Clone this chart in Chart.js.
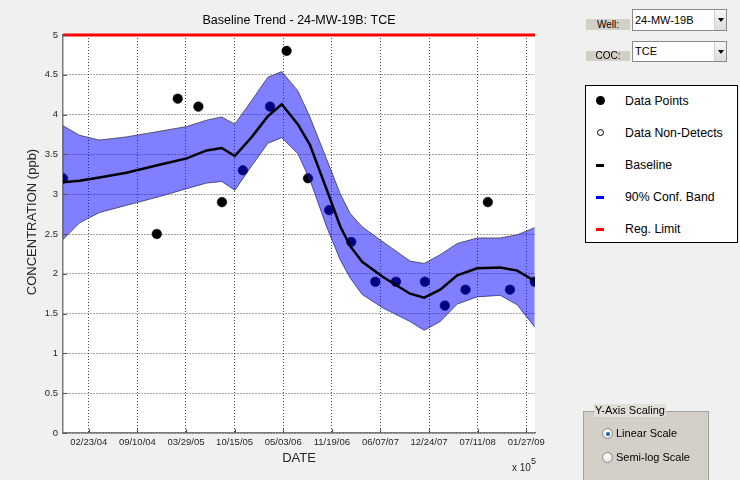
<!DOCTYPE html>
<html>
<head>
<meta charset="utf-8">
<title>Baseline Trend - 24-MW-19B: TCE</title>
<script src="https://cdn.jsdelivr.net/npm/chart.js@4.4.0/dist/chart.umd.min.js"></script>
<style>
  html, body { margin: 0; padding: 0; background: #f0f0f0; }
  #wrap { position: relative; width: 740px; height: 480px; overflow: hidden;
          font-family: Arial, "Liberation Sans", sans-serif; color: #000; }
  #chart { position: absolute; left: 0; top: 0; }
  .tag { position: absolute; background: #d4d0c8; font-size: 10px; text-align: center; }
  .dd { position: absolute; box-sizing: border-box; background: #fff; border: 1px solid #8a8a8a;
        font-size: 11px; padding-left: 2px; }
  .dd .btn { position: absolute; right: 0; top: 0; bottom: 0; width: 11px;
             background: linear-gradient(#f6f6f6, #dcdcdc); border-left: 1px solid #d0d0d0; }
  .dd .btn::after { content: ""; position: absolute; left: 3px; top: 50%; margin-top: -2px;
                    border-left: 3px solid transparent; border-right: 3px solid transparent;
                    border-top: 4px solid #000; }
  #legend { position: absolute; left: 585px; top: 85px; width: 153px; height: 158px;
            box-sizing: border-box; border: 1px solid #000; background: #fff; }
  .row { position: absolute; left: 0; height: 16px; font-size: 12.3px; line-height: 16px; }
  .row span.txt { position: absolute; left: 39px; white-space: nowrap; }
  .mk { position: absolute; }
  #scaling { position: absolute; left: 583px; top: 411px; width: 126px; height: 90px;
             box-sizing: border-box; background: #d4d0c8; border: 1px solid #a0a0a0; }
  #scaling .cap { position: absolute; left: 10px; top: -8px; font-size: 11px; line-height: 13px;
                  padding: 0 1px; background: #e2dfd9; white-space: nowrap; }
  .radio { position: absolute; font-size: 11px; line-height: 13px; white-space: nowrap; }
  .radio i { position: absolute; left: 0; top: 0; width: 11px; height: 11px; box-sizing: border-box;
             border-radius: 50%; border: 1px solid #8c8c8c;
             background: radial-gradient(circle at 40% 35%, #ffffff, #dcdcdc); }
  .radio i.on::after { content: ""; position: absolute; left: 2.5px; top: 2.5px; width: 4px; height: 4px;
                       border-radius: 50%; background: #1c62b0; }
  .radio span { position: absolute; left: 14px; top: -1px; }
  #mult { position: absolute; left: 512px; top: 459px; font-size: 10px; color: #262626; white-space: nowrap; }
  #mult sup { font-size: 9px; position: relative; top: -3px; }
</style>
</head>
<body>
<div id="wrap">
  <canvas id="chart" width="740" height="480"></canvas>

  <div class="tag" style="left:586px;top:19px;width:44px;height:11px;line-height:11px;">Well:</div>
  <div class="dd" style="left:632px;top:9px;width:95px;height:22px;line-height:20px;">24-MW-19B<div class="btn"></div></div>

  <div class="tag" style="left:586px;top:51px;width:44px;height:10px;line-height:10px;">COC:</div>
  <div class="dd" style="left:632px;top:41px;width:95px;height:21px;line-height:19px;">TCE<div class="btn"></div></div>

  <div id="legend">
    <div class="row" style="top:7px;width:150px;">
      <div class="mk" style="left:10px;top:3px;width:9px;height:9px;border-radius:50%;background:#000;"></div>
      <span class="txt">Data Points</span></div>
    <div class="row" style="top:39px;width:150px;">
      <div class="mk" style="left:11px;top:4px;width:7px;height:7px;box-sizing:border-box;border-radius:50%;border:1px solid #000;"></div>
      <span class="txt">Data Non-Detects</span></div>
    <div class="row" style="top:71px;width:150px;">
      <div class="mk" style="left:10px;top:7px;width:8px;height:3px;background:#000;"></div>
      <span class="txt">Baseline</span></div>
    <div class="row" style="top:103px;width:150px;">
      <div class="mk" style="left:10px;top:7px;width:8px;height:3px;background:#0000ff;"></div>
      <span class="txt">90% Conf. Band</span></div>
    <div class="row" style="top:135px;width:150px;">
      <div class="mk" style="left:10px;top:7px;width:8px;height:3px;background:#ff0000;"></div>
      <span class="txt">Reg. Limit</span></div>
  </div>

  <div id="scaling">
    <div class="cap">Y-Axis Scaling</div>
    <div class="radio" style="left:18px;top:16px;"><i class="on"></i><span>Linear Scale</span></div>
    <div class="radio" style="left:18px;top:40px;"><i></i><span>Semi-log Scale</span></div>
  </div>

  <div id="mult">x 10<sup>5</sup></div>
</div>

<script>
// Sample dates are stored as days after 02/23/04.
const tickDays = [0, 200, 400, 600, 800, 1000, 1200, 1400, 1600, 1800];
const tickLabels = ['02/23/04', '09/10/04', '03/29/05', '10/15/05', '05/03/06',
                    '11/19/06', '06/07/07', '12/24/07', '07/11/08', '01/27/09'];
const dateRange = [-106, 1836];

// Measured TCE concentrations (ppb)
const sampleDays = [-106, 280, 366, 451, 548, 634, 746, 814, 902, 989,
                    1080, 1179, 1264, 1383, 1465, 1550, 1642, 1733, 1835];
const concentration = [3.2, 2.5, 4.2, 4.1, 2.9, 3.3, 4.1, 4.8, 3.2, 2.8,
                       2.4, 1.9, 1.9, 1.9, 1.6, 1.8, 2.9, 1.8, 1.9];

// Baseline trend and its 90% confidence band
const trendDays = [-106, -38, 44, 155, 291, 403, 485, 547, 601, 671, 737, 794, 860, 910,
                   980, 1034, 1075, 1125, 1211, 1322, 1380, 1446, 1516, 1598, 1693, 1763, 1835];
const baseline  = [3.15, 3.17, 3.21, 3.27, 3.37, 3.45, 3.55, 3.58, 3.48, 3.72, 3.98, 4.13, 3.88, 3.62,
                   3.05, 2.60, 2.35, 2.15, 1.96, 1.75, 1.70, 1.80, 1.98, 2.07, 2.08, 2.04, 1.91];
const bandUpper = [3.86, 3.74, 3.68, 3.72, 3.79, 3.85, 3.93, 3.97, 3.88, 4.18, 4.47, 4.54, 4.30, 3.97,
                   3.43, 3.01, 2.76, 2.59, 2.40, 2.16, 2.13, 2.24, 2.38, 2.45, 2.45, 2.49, 2.58];
const bandLower = [2.43, 2.64, 2.77, 2.86, 2.97, 3.07, 3.14, 3.16, 3.05, 3.36, 3.64, 3.71, 3.51, 3.18,
                   2.58, 2.18, 1.95, 1.74, 1.57, 1.40, 1.29, 1.40, 1.62, 1.71, 1.73, 1.61, 1.33];

const regLimit = 5;

const pts = (xs, ys) => xs.map((x, i) => ({ x: x, y: ys[i] }));
const FONT = 'Arial, "Liberation Sans", sans-serif';

// white plotting surface behind the axes
const plotSurface = {
  id: 'plotSurface',
  beforeDraw(chart) {
    const { ctx, chartArea: a } = chart;
    ctx.save();
    ctx.fillStyle = '#ffffff';
    ctx.fillRect(a.left, a.top, a.right - a.left, a.bottom - a.top);
    ctx.restore();
  }
};

// short inward tick marks along the left and bottom axes, plus the rotated y label
const axisDecor = {
  id: 'axisDecor',
  afterDraw(chart) {
    const { ctx, chartArea: a, scales } = chart;
    ctx.save();
    ctx.strokeStyle = '#555';
    ctx.lineWidth = 1;
    ctx.beginPath();
    scales.y.ticks.forEach(t => {
      const py = Math.round(scales.y.getPixelForValue(t.value)) + 0.5;
      ctx.moveTo(a.left, py); ctx.lineTo(a.left + 4, py);
    });
    scales.x.ticks.forEach(t => {
      const px = Math.round(scales.x.getPixelForValue(t.value)) + 0.5;
      ctx.moveTo(px, a.bottom); ctx.lineTo(px, a.bottom - 4);
    });
    ctx.stroke();

    ctx.translate(32, 222);
    ctx.rotate(-Math.PI / 2);
    ctx.fillStyle = '#262626';
    ctx.font = '13px ' + FONT;
    ctx.textAlign = 'center';
    ctx.textBaseline = 'middle';
    ctx.fillText('CONCENTRATION (ppb)', 0, 0);
    ctx.restore();
  }
};

new Chart(document.getElementById('chart'), {
  type: 'line',
  data: {
    datasets: [
      { // drawn last (on top)
        label: 'Baseline',
        data: pts(trendDays, baseline),
        borderColor: '#000000', borderWidth: 2.5,
        pointRadius: 0, fill: false, tension: 0
      },
      {
        label: 'Reg. Limit',
        data: pts(dateRange, [regLimit, regLimit]),
        borderColor: '#ff0000', borderWidth: 3,
        pointRadius: 0, fill: false, clip: 4
      },
      {
        label: '90% Conf. Band',
        data: pts(trendDays, bandUpper),
        borderColor: 'rgba(50,50,60,0.75)', borderWidth: 1,
        backgroundColor: 'rgba(0,0,255,0.5)',
        pointRadius: 0, fill: '+1', tension: 0
      },
      {
        label: 'band lower',
        data: pts(trendDays, bandLower),
        borderColor: 'rgba(50,50,60,0.75)', borderWidth: 1,
        pointRadius: 0, fill: false, tension: 0
      },
      { // drawn first, so the band tints the points it covers
        label: 'Data Points',
        data: pts(sampleDays, concentration),
        showLine: false,
        pointRadius: 4.8, pointBackgroundColor: '#000000',
        pointBorderColor: '#000000', pointBorderWidth: 0.5
      }
    ]
  },
  options: {
    responsive: false,
    animation: false,
    events: [],
    layout: { padding: { left: 0, right: 205, top: 0, bottom: 0 } },
    plugins: {
      legend: { display: false },
      tooltip: { enabled: false },
      title: {
        display: true,
        fullSize: false,
        text: 'Baseline Trend - 24-MW-19B: TCE',
        color: '#000000',
        font: { family: FONT, size: 12.5, weight: 'normal' },
        padding: { top: 13, bottom: 7 }
      }
    },
    scales: {
      x: {
        type: 'linear',
        min: dateRange[0], max: dateRange[1],
        afterBuildTicks: s => { s.ticks = tickDays.map(v => ({ value: v })); },
        afterFit: s => { s.height = 47; },
        ticks: {
          autoSkip: false, maxRotation: 0, minRotation: 0, padding: 4,
          color: '#262626', font: { family: FONT, size: 9.5 },
          callback: v => tickLabels[tickDays.indexOf(v)]
        },
        grid: { color: 'rgba(0,0,0,0.7)', lineWidth: 1, drawTicks: false },
        border: { display: true, color: '#7a7a7a', width: 1.5, dash: [1, 2] },
        title: {
          display: true, text: 'DATE', color: '#262626',
          font: { family: FONT, size: 13 },
          padding: { top: 0, bottom: 14 }
        }
      },
      y: {
        type: 'linear',
        min: 0, max: 5,
        afterFit: s => { s.width = 63; },
        ticks: {
          stepSize: 0.5, padding: 5,
          color: '#262626', font: { family: FONT, size: 9.5 },
          callback: v => String(Math.round(v * 10) / 10)
        },
        grid: { color: 'rgba(0,0,0,0.7)', lineWidth: 1, drawTicks: false },
        border: { display: true, color: '#7a7a7a', width: 1.5, dash: [1, 2] }
      }
    }
  },
  plugins: [plotSurface, axisDecor]
});
</script>
</body>
</html>
